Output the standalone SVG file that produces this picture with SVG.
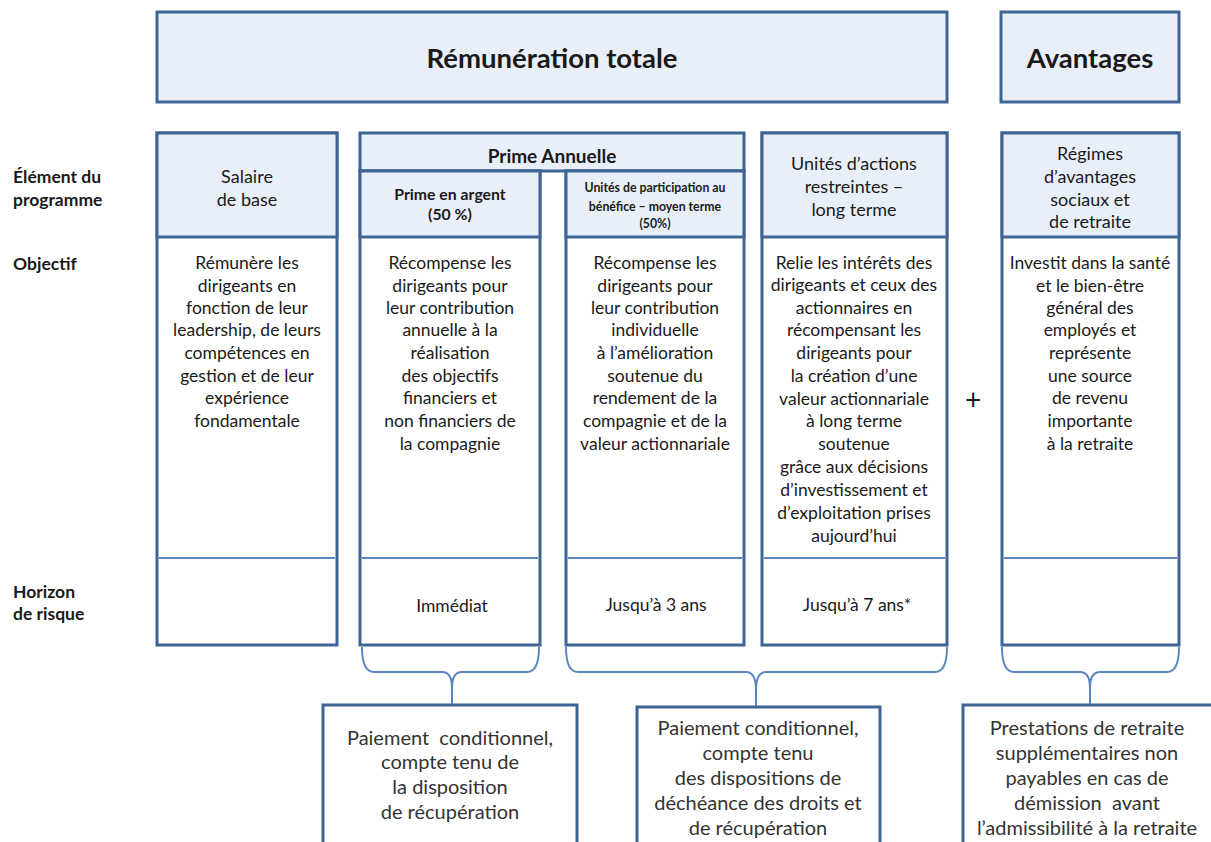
<svg xmlns="http://www.w3.org/2000/svg" width="1211" height="842" viewBox="0 0 1211 842">
<style>
text{font-family:Lato,"Liberation Sans",sans-serif;fill:#1a1a1a;text-anchor:middle;dominant-baseline:central}
.box{fill:#e9eff8;stroke:#3f6594;stroke-width:3}
.body{fill:#ffffff;stroke:#3f6594;stroke-width:3}
.thin{stroke:#5a86bf;stroke-width:2;fill:none}
.brace{stroke:#5a86bf;stroke-width:2;fill:none}
.t1{font-size:27.5px;font-weight:bold}
.lbl{font-size:17.5px;font-weight:bold;text-anchor:start}
.hd{font-size:18px}
.hb{font-size:19px;font-weight:bold}
.hs{font-size:15.8px;font-weight:bold}
.hxs{font-size:12.3px;font-weight:bold}
.bd{font-size:17.5px}
.bt{font-size:20px;fill:#333}
</style>

<g id="top-remuneration">
<rect class="box" x="157" y="12" width="790" height="90"/>
<text class="t1" x="552" y="57">Rémunération totale</text>
</g>
<g id="top-avantages">
<rect class="box" x="1001" y="12" width="178" height="90"/>
<text class="t1" x="1090" y="57">Avantages</text>
</g>

<g id="row-labels">
<text class="lbl" x="13" y="176">Élément du</text>
<text class="lbl" x="13" y="199">programme</text>
<text class="lbl" x="13" y="263">Objectif</text>
<text class="lbl" x="13" y="591">Horizon</text>
<text class="lbl" x="13" y="613">de risque</text>
</g>

<g id="col-salaire">
<rect class="body" x="157" y="133" width="180" height="512"/>
<rect class="box" x="157" y="133" width="180" height="104"/>
<line class="thin" x1="159" y1="558" x2="335" y2="558"/>
<text class="hd" x="247" y="176">Salaire</text>
<text class="hd" x="247" y="199">de base</text>
<text class="bd" x="247" y="262">Rémunère les</text>
<text class="bd" x="247" y="285">dirigeants en</text>
<text class="bd" x="247" y="307">fonction de leur</text>
<text class="bd" x="247" y="329">leadership, de leurs</text>
<text class="bd" x="247" y="352">compétences en</text>
<text class="bd" x="247" y="375">gestion et de leur</text>
<text class="bd" x="247" y="397">expérience</text>
<text class="bd" x="247" y="420">fondamentale</text>
</g>

<g id="prime-annuelle">
<rect class="box" x="360" y="133" width="384" height="38"/>
<text class="hb" x="552" y="155">Prime Annuelle</text>
</g>

<g id="col-prime-argent">
<rect class="body" x="360" y="171" width="180" height="474"/>
<rect class="box" x="360" y="171" width="180" height="66"/>
<line class="thin" x1="362" y1="558" x2="538" y2="558"/>
<text class="hs" x="450" y="193">Prime en argent</text>
<text class="hs" x="450" y="213">(50 %)</text>
<text class="bd" x="450" y="262">Récompense les</text>
<text class="bd" x="450" y="285">dirigeants pour</text>
<text class="bd" x="450" y="307">leur contribution</text>
<text class="bd" x="450" y="329">annuelle à la</text>
<text class="bd" x="450" y="352">réalisation</text>
<text class="bd" x="450" y="375">des objectifs</text>
<text class="bd" x="450" y="397">financiers et</text>
<text class="bd" x="450" y="420">non financiers de</text>
<text class="bd" x="450" y="443">la compagnie</text>
<text class="bd" x="452" y="605">Immédiat</text>
</g>

<g id="col-participation">
<rect class="body" x="566" y="171" width="178" height="474"/>
<rect class="box" x="566" y="171" width="178" height="66"/>
<line class="thin" x1="568" y1="558" x2="742" y2="558"/>
<text class="hxs" x="655" y="187">Unités de participation au</text>
<text class="hxs" x="655" y="206">bénéfice – moyen terme</text>
<text class="hxs" x="655" y="223">(50%)</text>
<text class="bd" x="655" y="262">Récompense les</text>
<text class="bd" x="655" y="285">dirigeants pour</text>
<text class="bd" x="655" y="307">leur contribution</text>
<text class="bd" x="655" y="329">individuelle</text>
<text class="bd" x="655" y="352">à l’amélioration</text>
<text class="bd" x="655" y="375">soutenue du</text>
<text class="bd" x="655" y="397">rendement de la</text>
<text class="bd" x="655" y="420">compagnie et de la</text>
<text class="bd" x="655" y="443">valeur actionnariale</text>
<text class="bd" x="656" y="604">Jusqu’à 3 ans</text>
</g>

<g id="col-actions">
<rect class="body" x="762" y="133" width="185" height="512"/>
<rect class="box" x="762" y="133" width="185" height="104"/>
<line class="thin" x1="764" y1="558" x2="945" y2="558"/>
<text class="hd" x="854" y="163">Unités d’actions</text>
<text class="hd" x="854" y="186">restreintes –</text>
<text class="hd" x="854" y="209">long terme</text>
<text class="bd" x="854" y="262">Relie les intérêts des</text>
<text class="bd" x="854" y="284">dirigeants et ceux des</text>
<text class="bd" x="854" y="307">actionnaires en</text>
<text class="bd" x="854" y="329">récompensant les</text>
<text class="bd" x="854" y="352">dirigeants pour</text>
<text class="bd" x="854" y="375">la création d’une</text>
<text class="bd" x="854" y="398">valeur actionnariale</text>
<text class="bd" x="854" y="420">à long terme</text>
<text class="bd" x="854" y="443">soutenue</text>
<text class="bd" x="854" y="466">grâce aux décisions</text>
<text class="bd" x="854" y="489">d’investissement et</text>
<text class="bd" x="854" y="512">d’exploitation prises</text>
<text class="bd" x="854" y="535">aujourd’hui</text>
<text class="bd" x="857" y="604">Jusqu’à 7 ans*</text>
</g>

<g id="plus">
<text x="973" y="399" style="font-size:28px">+</text>
</g>

<g id="col-regimes">
<rect class="body" x="1002" y="133" width="177" height="512"/>
<rect class="box" x="1002" y="133" width="177" height="104"/>
<line class="thin" x1="1004" y1="558" x2="1177" y2="558"/>
<text class="hd" x="1090" y="153">Régimes</text>
<text class="hd" x="1090" y="176">d’avantages</text>
<text class="hd" x="1090" y="199">sociaux et</text>
<text class="hd" x="1090" y="221">de retraite</text>
<text class="bd" x="1090" y="262">Investit dans la santé</text>
<text class="bd" x="1090" y="285">et le bien-être</text>
<text class="bd" x="1090" y="307">général des</text>
<text class="bd" x="1090" y="329">employés et</text>
<text class="bd" x="1090" y="352">représente</text>
<text class="bd" x="1090" y="375">une source</text>
<text class="bd" x="1090" y="397">de revenu</text>
<text class="bd" x="1090" y="420">importante</text>
<text class="bd" x="1090" y="443">à la retraite</text>
</g>

<g id="connectors">
<path class="brace" d="M362,647 Q362,672 374,672 L442,672 Q452,672 452,688 L452,705 M452,688 Q452,672 462,672 L527,672 Q539,672 539,647"/>
<path class="brace" d="M566,647 Q566,672 578,672 L746,672 Q756,672 756,690 L756,707 M756,690 Q756,672 766,672 L935,672 Q947,672 947,647"/>
<path class="brace" d="M1002,647 Q1002,672 1014,672 L1080,672 Q1090,672 1090,688 L1090,705 M1090,688 Q1090,672 1100,672 L1167,672 Q1179,672 1179,647"/>
</g>

<g id="bottom-1">
<rect class="body" x="323" y="705" width="254" height="150"/>
<text class="bt" x="450" y="737" xml:space="preserve">Paiement  conditionnel,</text>
<text class="bt" x="450" y="761">compte tenu de</text>
<text class="bt" x="450" y="786">la disposition</text>
<text class="bt" x="450" y="811">de récupération</text>
</g>
<g id="bottom-2">
<rect class="body" x="637" y="707" width="243" height="150"/>
<text class="bt" x="758" y="727">Paiement conditionnel,</text>
<text class="bt" x="758" y="752">compte tenu</text>
<text class="bt" x="758" y="777">des dispositions de</text>
<text class="bt" x="758" y="802">déchéance des droits et</text>
<text class="bt" x="758" y="827">de récupération</text>
</g>
<g id="bottom-3">
<rect class="body" x="963" y="705" width="270" height="150"/>
<text class="bt" x="1087" y="727">Prestations de retraite</text>
<text class="bt" x="1087" y="752">supplémentaires non</text>
<text class="bt" x="1087" y="777">payables en cas de</text>
<text class="bt" x="1087" y="802" xml:space="preserve">démission  avant</text>
<text class="bt" x="1087" y="827">l’admissibilité à la retraite</text>
</g>
</svg>
